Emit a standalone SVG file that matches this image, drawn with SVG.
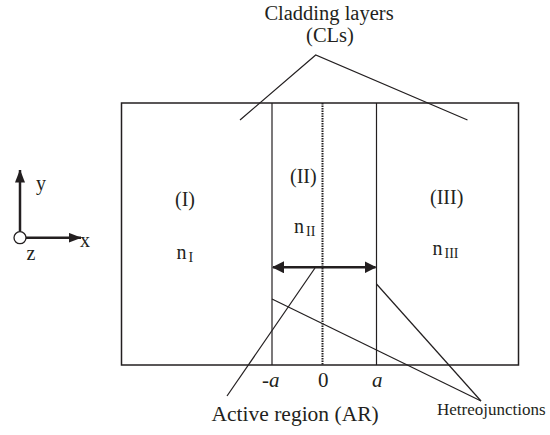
<svg xmlns="http://www.w3.org/2000/svg" width="550" height="435" viewBox="0 0 550 435">
<style>
text{font-family:"Liberation Serif","Times New Roman",serif;fill:#231f20}
.t{font-size:20px}
.s{font-size:14px}
.ln{stroke:#231f20;stroke-width:1.2;fill:none}
.bd{stroke:#231f20;stroke-width:1.5;fill:none}
</style>
<defs>
<marker id="ah" viewBox="0 0 12 12" refX="11" refY="6" markerWidth="12" markerHeight="12" markerUnits="userSpaceOnUse" orient="auto-start-reverse">
<path d="M0,0 L12,6 L0,12 Z" fill="#231f20"/>
</marker>
<marker id="ax" viewBox="0 0 13 10" refX="12.5" refY="5" markerWidth="13" markerHeight="10" markerUnits="userSpaceOnUse" orient="auto">
<path d="M0,0 L13,5 L0,10 Z" fill="#231f20"/>
</marker>
</defs>
<g id="structure">
<rect x="121.5" y="103" width="397" height="262" class="bd"/>
<line x1="272" y1="103" x2="272" y2="365" class="ln"/>
<line x1="376.5" y1="103" x2="376.5" y2="365" class="ln"/>
<line x1="322.5" y1="103" x2="322.5" y2="365" stroke="#231f20" stroke-width="2" stroke-dasharray="1.5,1"/>
</g>
<g id="axes">
<line x1="20" y1="231.7" x2="20" y2="170" stroke="#231f20" stroke-width="2.5" marker-end="url(#ax)"/>
<line x1="26" y1="237.7" x2="81" y2="237.7" stroke="#231f20" stroke-width="2.5" marker-end="url(#ax)"/>
<circle cx="20" cy="237.7" r="6" fill="#fff" stroke="#231f20" stroke-width="1.3"/>
<text class="t" x="36" y="190">y</text>
<text class="t" x="80" y="247">x</text>
<text class="t" x="26.5" y="260">z</text>
</g>
<g id="region-I">
<text class="t" x="175" y="206">(I)</text>
<text class="t" x="176.5" y="259">n<tspan class="s" dy="3" dx="2">I</tspan></text>
</g>
<g id="region-II">
<text class="t" x="290" y="183">(II)</text>
<text class="t" x="294" y="233">n<tspan class="s" dy="3" dx="2">II</tspan></text>
</g>
<g id="region-III">
<text class="t" x="430" y="204">(III)</text>
<text class="t" x="432.5" y="255">n<tspan class="s" dy="3" dx="2">III</tspan></text>
</g>
<g id="width-arrow">
<line x1="273" y1="267.3" x2="375.5" y2="267.3" stroke="#231f20" stroke-width="2.5" marker-start="url(#ah)" marker-end="url(#ah)"/>
</g>
<g id="axis-labels">
<text x="262" y="387" style="font-size:21px;font-style:italic">-a</text>
<text x="318" y="387" style="font-size:21px">0</text>
<text x="372" y="387" style="font-size:21px;font-style:italic">a</text>
</g>
<g id="cladding-label">
<text x="329" y="20" text-anchor="middle" style="font-size:20.5px">Cladding layers</text>
<text x="330" y="42" text-anchor="middle" style="font-size:20.5px">(CLs)</text>
</g>
<g id="active-label">
<text x="211.5" y="421" style="font-size:21.5px">Active region (AR)</text>
</g>
<g id="hetero-label">
<text x="437" y="415" style="font-size:17px">Hetreojunctions</text>
</g>
<g id="connectors">
<polyline points="240,120 315.7,55 467.5,120" class="ln"/>
<line x1="315" y1="268" x2="227" y2="396" class="ln"/>
<line x1="272" y1="299" x2="481" y2="401" class="ln"/>
<line x1="376.5" y1="284" x2="481" y2="401" class="ln"/>
</g>
</svg>
